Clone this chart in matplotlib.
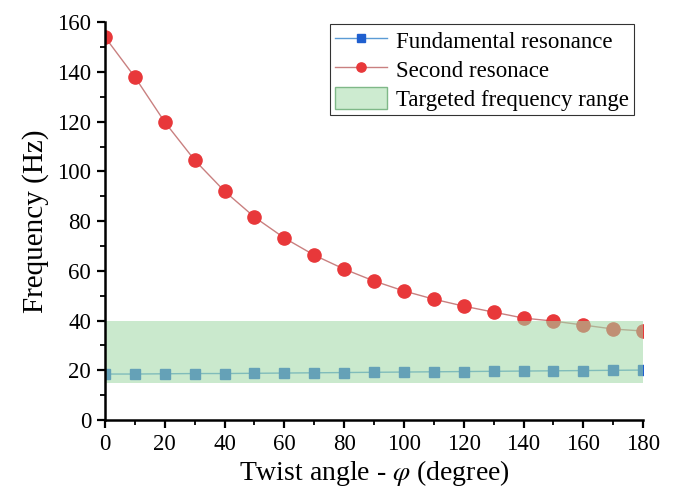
import matplotlib.pyplot as plt
from matplotlib.ticker import MultipleLocator

plt.rcParams['font.family'] = ['Liberation Serif', 'DejaVu Serif']
plt.rcParams['mathtext.fontset'] = 'stix'

angle = [0, 10, 20, 30, 40, 50, 60, 70, 80, 90, 100, 110, 120, 130, 140, 150, 160, 170, 180]
fundamental = [18.5, 18.5, 18.6, 18.7, 18.7, 18.8, 18.9, 19.0, 19.1, 19.2, 19.3, 19.4, 19.5, 19.6, 19.7, 19.8, 19.9, 20.0, 20.1]
second = [154.0, 137.9, 119.8, 104.5, 92.0, 81.6, 73.2, 66.3, 60.7, 55.9, 51.9, 48.6, 45.8, 43.4, 41.0, 39.8, 38.2, 36.6, 35.8]
band_low, band_high = 15, 40

fig = plt.figure(figsize=(6.82, 4.93), dpi=100)
ax = fig.add_axes([0.154, 0.148, 0.789, 0.807])

ax.plot(angle, fundamental, color='#5b9bd5', lw=1, marker='s', ms=7.5,
        mfc='#1f5fcf', mec='#1f5fcf', label='Fundamental resonance', zorder=3)
ax.plot(angle, second, color='#c98080', lw=1, marker='o', ms=9.5,
        mfc='#e8383a', mec='#e8383a', label='Second resonace', zorder=3)
ax.fill_between([0, 180], band_low, band_high, facecolor='#9fd8a5', alpha=0.55,
                edgecolor='none', zorder=4)
ax.fill_between([], [], [], facecolor='#cdebd0', edgecolor='#7fb888', lw=1,
                label='Targeted frequency range')

ax.set_xlim(0, 180)
ax.set_ylim(0, 160)
ax.xaxis.set_major_locator(MultipleLocator(20))
ax.xaxis.set_minor_locator(MultipleLocator(10))
ax.yaxis.set_major_locator(MultipleLocator(20))
ax.yaxis.set_minor_locator(MultipleLocator(10))
ax.spines['top'].set_visible(False)
ax.spines['right'].set_visible(False)
for s in ['left', 'bottom']:
    ax.spines[s].set_linewidth(1.8)
    ax.spines[s].set_zorder(5)
ax.tick_params(which='major', direction='out', length=6, width=1.6, labelsize=16.5, pad=4)
ax.tick_params(which='minor', direction='out', length=3.5, width=1.3)

ax.set_ylabel('Frequency (Hz)', fontsize=21, labelpad=6)
ax.set_xlabel('Twist angle - $\\varphi$ (degree)', fontsize=20, labelpad=2)

leg = ax.legend(loc='upper right', bbox_to_anchor=(0.987, 1.0), fontsize=16.5,
                frameon=True, fancybox=False, edgecolor='black', handlelength=2.3,
                handleheight=1.1, borderpad=0.2, labelspacing=0.22, handletextpad=0.4,
                borderaxespad=0.1, markerscale=0.7)
leg.get_frame().set_linewidth(0.8)

fig.savefig('out.png', dpi=100)
